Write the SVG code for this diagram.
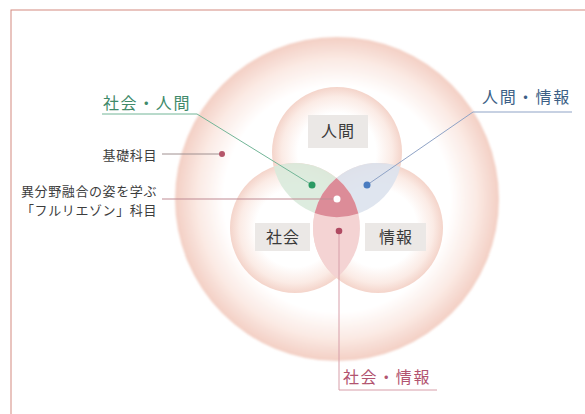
<svg xmlns="http://www.w3.org/2000/svg" width="585" height="414" viewBox="0 0 585 414">
  <defs>
    <radialGradient id="bigG" cx="0.5" cy="0.5" r="0.5">
      <stop offset="0" stop-color="#ffffff"/>
      <stop offset="0.7" stop-color="#ffffff"/>
      <stop offset="0.86" stop-color="#fbeae4"/>
      <stop offset="1" stop-color="#f3cfc4"/>
    </radialGradient>
    <radialGradient id="smallG" cx="0.5" cy="0.5" r="0.5">
      <stop offset="0" stop-color="#ffffff"/>
      <stop offset="0.6" stop-color="#ffffff"/>
      <stop offset="0.85" stop-color="#fbebe5"/>
      <stop offset="1" stop-color="#f4d4ca"/>
    </radialGradient>
    <filter id="soft" x="-10%" y="-10%" width="120%" height="120%">
      <feGaussianBlur stdDeviation="1.2"/>
    </filter>
    <style>
      .lbl { font-family: "Noto Sans CJK JP", "Noto Sans", sans-serif; }
      .box { fill: #ebe8e6; }
      .boxtext { font-size: 16px; fill: #3a3a3a; text-anchor: middle; letter-spacing: 1px; }
      .side { font-size: 13px; letter-spacing: 0.6px; fill: #3d3d3d; }
      .conn { fill: none; stroke-width: 1; }
    </style>
  </defs>

  <rect x="11" y="10" width="600" height="420" fill="#ffffff" stroke="#d48a80" stroke-width="1"/>

  <g id="base-ring">
    <circle cx="337" cy="199" r="162" fill="url(#bigG)" filter="url(#soft)"/>
  </g>

  <g id="circle-ningen">
    <circle cx="337" cy="152" r="65" fill="url(#smallG)"/>
  </g>
  <g id="circle-shakai">
    <circle cx="295" cy="228" r="65" fill="url(#smallG)"/>
  </g>
  <g id="circle-johou">
    <circle cx="378" cy="228" r="65" fill="url(#smallG)"/>
  </g>

  <g id="lens-shakai-ningen">
    <path d="M273.7 166.6 A65 65 0 0 1 358.3 213.4 A65 65 0 0 1 273.7 166.6 Z" fill="#d9eadc" opacity="0.9"/>
  </g>
  <g id="lens-ningen-johou">
    <path d="M314.7 213.1 A65 65 0 0 0 400.3 166.9 A65 65 0 0 0 314.7 213.1 Z" fill="#dce2ed" opacity="0.9"/>
  </g>
  <g id="lens-shakai-johou">
    <path d="M336.5 178 A65 65 0 0 1 336.5 278 A65 65 0 0 1 336.5 178 Z" fill="#f4d3d3"/>
  </g>
  <g id="triple">
    <path d="M336.5 178 A65 65 0 0 1 358.3 213.4 A65 65 0 0 1 314.7 213.1 A65 65 0 0 1 336.5 178 Z" fill="#dc8c98"/>
  </g>

  <g id="node-ningen" class="lbl">
    <rect class="box" x="308" y="115" width="60" height="33"/>
    <text class="boxtext" x="338" y="137">人間</text>
  </g>
  <g id="node-shakai" class="lbl">
    <rect class="box" x="255" y="223" width="55" height="28"/>
    <text class="boxtext" x="283" y="243">社会</text>
  </g>
  <g id="node-johou" class="lbl">
    <rect class="box" x="365" y="223" width="61" height="28"/>
    <text class="boxtext" x="396" y="243">情報</text>
  </g>

  <g id="connectors">
    <polyline class="conn" points="102,114 197,114 312,185" stroke="#72b597"/>
    <polyline class="conn" points="572,112 473,112 367,185" stroke="#8fa3c6"/>
    <line class="conn" x1="162" y1="154" x2="222" y2="154" stroke="#a09090"/>
    <line class="conn" x1="162" y1="199" x2="337" y2="199" stroke="#bf8a93"/>
    <polyline class="conn" points="339,231 339,390 437,390" stroke="#d79ea9"/>
    <circle cx="312" cy="185" r="3.5" fill="#2a9a63"/>
    <circle cx="367" cy="185" r="3.5" fill="#4a7cc0"/>
    <circle cx="337" cy="199" r="3.5" fill="#ffffff"/>
    <circle cx="339" cy="231" r="3.3" fill="#b04a62"/>
    <circle cx="222" cy="154" r="3" fill="#b5566a"/>
  </g>

  <g id="label-shakai-ningen" class="lbl">
    <text x="103" y="109" font-size="16" letter-spacing="1.6" fill="#3f8a6a">社会・人間</text>
  </g>
  <g id="label-ningen-johou" class="lbl">
    <text x="482" y="103" font-size="16" letter-spacing="1.8" fill="#3c5f86">人間・情報</text>
  </g>
  <g id="label-kiso" class="lbl">
    <text class="side" x="157" y="160" text-anchor="end">基礎科目</text>
  </g>
  <g id="label-fullriaison" class="lbl">
    <text class="side" x="21" y="196">異分野融合の姿を学ぶ</text>
    <text class="side" x="21" y="215">「フルリエゾン」科目</text>
  </g>
  <g id="label-shakai-johou" class="lbl">
    <text x="343" y="383" font-size="16" letter-spacing="1.6" fill="#b25470">社会・情報</text>
  </g>
</svg>
